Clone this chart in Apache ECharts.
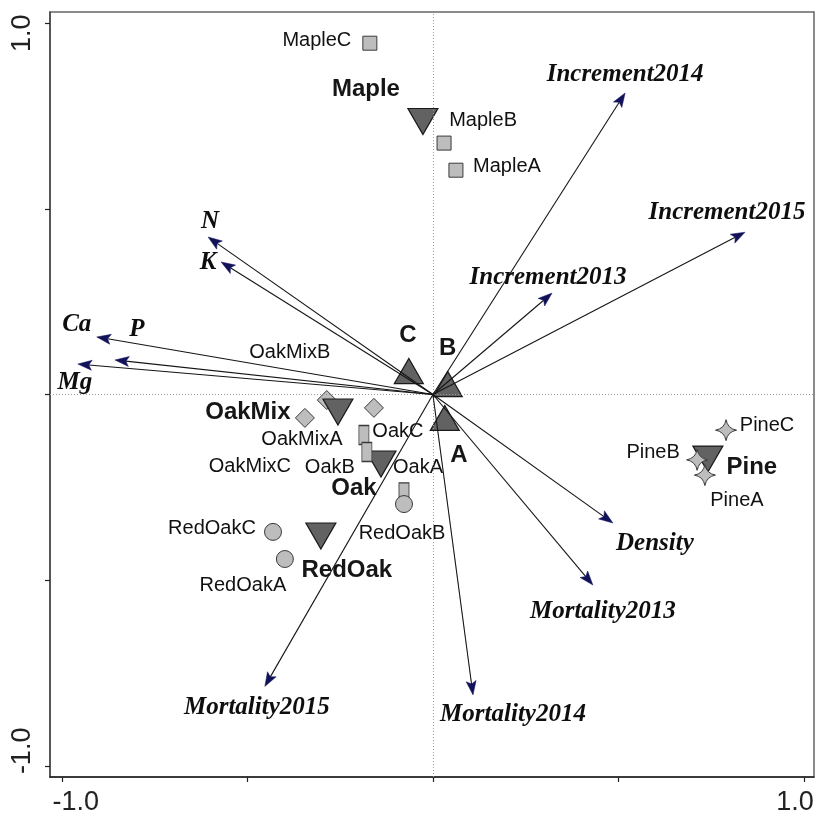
<!DOCTYPE html>
<html><head><meta charset="utf-8">
<script src="https://cdn.jsdelivr.net/npm/echarts@6/dist/echarts.min.js"></script>
<style>html,body{margin:0;padding:0;background:#fff}#c{width:817px;height:816px}</style>
</head><body><div id="c"></div>
<script>
// Environmental vectors (arrow tips)
const envNames = ['Increment2014','Increment2015','Increment2013','N','K','Ca','P','Mg','Density','Mortality2013','Mortality2014','Mortality2015'];
const envX = [0.518, 0.841, 0.321, -0.606, -0.571, -0.906, -0.857, -0.957, 0.485, 0.431, 0.108, -0.453];
const envY = [0.812, 0.437, 0.273, 0.424, 0.357, 0.155, 0.093, 0.082, -0.346, -0.513, -0.809, -0.786];
// Species group centroids
const groupNames = ['Maple','OakMix','Oak','RedOak','Pine'];
const groupX = [-0.027, -0.256, -0.140, -0.302, 0.741];
const groupY = [0.735, -0.047, -0.187, -0.381, -0.174];
// Site centroids
const siteGroupNames = ['C','B','A'];
const siteGroupX = [-0.065, 0.040, 0.032];
const siteGroupY = [0.063, 0.028, -0.063];
// Individual plots
const mapleNames = ['MapleC','MapleB','MapleA'];
const mapleX = [-0.170, 0.030, 0.062];
const mapleY = [0.946, 0.677, 0.604];
const oakMixNames = ['OakMixB','OakMixA','OakMixC'];
const oakMixX = [-0.286, -0.345, -0.159];
const oakMixY = [-0.015, -0.063, -0.036];
const oakNames = ['OakC','OakB','OakA'];
const oakX = [-0.186, -0.178, -0.078];
const oakY = [-0.109, -0.155, -0.257];
const redOakNames = ['RedOakB','RedOakC','RedOakA'];
const redOakX = [-0.078, -0.431, -0.399];
const redOakY = [-0.295, -0.370, -0.443];
const pineNames = ['PineC','PineB','PineA'];
const pineX = [0.790, 0.712, 0.733];
const pineY = [-0.096, -0.176, -0.217];
// Axis ticks
const tickValues = [-1, -0.5, 0, 0.5, 1];
const labelValues = [-1, 1];
const tickLabels = {'-1': '-1.0', '1': '1.0'};

// label offsets in pixels (styling)
const labelOffset = {
  Increment2014:[0,-18], Increment2015:[-18,-20], Increment2013:[-4,-16], N:[2,-15], K:[-13,1],
  Ca:[-20,-12], P:[22,-30], Mg:[-3,18], Density:[42,21], Mortality2013:[10,27], Mortality2014:[40,20], Mortality2015:[-8,21],
  Maple:[-57,-32], OakMix:[-90,0], Oak:[-27,24], RedOak:[26,34], Pine:[44,8],
  C:[-1,-36], B:[0,-36], A:[14,37],
  MapleC:[-53,-3], MapleB:[39,-23], MapleA:[51,-4],
  OakMixB:[-37,-48], OakMixA:[-3,22], OakMixC:[-124,59],
  OakC:[34,-3], OakB:[-37,15], OakA:[14,-22],
  RedOakB:[-2,29], RedOakC:[-61,-3], RedOakA:[-42,26],
  PineC:[41,-5], PineB:[-44,-7], PineA:[32,25]
};
const oakSizes = {OakC:[10,19], OakB:[10,19], OakA:[10,14]};

function pts(names, xs, ys, extra) {
  return names.map((n, i) => Object.assign({name: n, value: [xs[i], ys[i]], label: {offset: labelOffset[n]}}, extra ? extra(n) : {}));
}
const sansLabel = {show:true, position:'inside', formatter:'{b}', fontFamily:'Liberation Sans, Arial, sans-serif', fontSize:20, color:'#111', align:'center', verticalAlign:'middle', textBorderWidth:0, textBorderColor:'transparent', opacity:1};
const boldLabel = Object.assign({}, sansLabel, {fontSize:24, fontWeight:'bold', color:'#161616'});
const envLabel = Object.assign({}, sansLabel, {fontFamily:'Liberation Serif, Times New Roman, serif', fontStyle:'italic', fontWeight:'bold', fontSize:25, color:'#0e0e0e'});
const ptStyle = {color:'#bdbdbd', borderColor:'#3a3a3a', borderWidth:1, opacity:1};
const triStyle = {color:'#626262', borderColor:'#1a1a1a', borderWidth:1.2, opacity:1};

const chart = echarts.init(document.getElementById('c'), null, {renderer:'canvas'});
const axisFont = {fontFamily:'Liberation Sans, Arial, sans-serif', fontSize:27, color:'#222'};
chart.setOption({
  animation:false,
  backgroundColor:'#fff',
  grid:{left:50, right:3, top:12, bottom:39, show:true, borderColor:'#666', borderWidth:1.5},
  xAxis:{type:'value', min:-1.032, max:1.027,
    axisLine:{show:true, onZero:false, lineStyle:{color:'#222', width:1.5}},
    axisTick:{show:true, customValues:tickValues, length:5, lineStyle:{color:'#222', width:1.2}},
    axisLabel:{customValues:labelValues, margin:12,
      formatter: v => v < 0 ? '{l|' + tickLabels[String(v)] + '}' : '{r|' + tickLabels[String(v)] + '}',
      rich:{l:Object.assign({padding:[0,0,0,28]}, axisFont), r:Object.assign({padding:[0,18,0,0]}, axisFont)}},
    splitLine:{show:false}},
  yAxis:{type:'value', min:-1.03, max:1.03,
    axisLine:{show:true, onZero:false, lineStyle:{color:'#444', width:1.5}},
    axisTick:{show:true, customValues:tickValues, length:5, lineStyle:{color:'#222', width:1.2}},
    axisLabel:{customValues:labelValues, rotate:90, margin:14,
      formatter: v => v < 0 ? '{l|' + tickLabels[String(v)] + '}' : '{r|' + tickLabels[String(v)] + '}',
      rich:{l:Object.assign({padding:[0,0,0,30]}, axisFont), r:Object.assign({padding:[0,20,0,0]}, axisFont)}},
    splitLine:{show:false}},
  series:[
    {type:'scatter', name:'zero', z:1, data:[], silent:true,
      markLine:{silent:true, symbol:['none','none'], label:{show:false},
        lineStyle:{type:[1,2], color:'#9a9a9a', width:1}, data:[{xAxis:0},{yAxis:0}]}},
    {type:'scatter', name:'OakMix plots', z:2, symbol:'diamond', symbolSize:19, itemStyle:ptStyle, label:sansLabel,
      data:pts(oakMixNames, oakMixX, oakMixY)},
    {type:'scatter', name:'groups', z:3, symbol:'triangle', symbolRotate:180, symbolSize:[30,26], itemStyle:triStyle, label:boldLabel,
      data:pts(groupNames, groupX, groupY)},
    {type:'scatter', name:'sites', z:3, symbol:'triangle', symbolSize:[29,25], itemStyle:triStyle, label:boldLabel,
      data:pts(siteGroupNames, siteGroupX, siteGroupY)},
    {type:'scatter', name:'Maple plots', z:4, symbol:'rect', symbolSize:14, itemStyle:ptStyle, label:sansLabel,
      data:pts(mapleNames, mapleX, mapleY)},
    {type:'scatter', name:'Oak plots', z:4, symbol:'rect', itemStyle:ptStyle, label:sansLabel,
      data:pts(oakNames, oakX, oakY, n => ({symbolSize: oakSizes[n]}))},
    {type:'scatter', name:'RedOak plots', z:4, symbol:'circle', symbolSize:17, itemStyle:ptStyle, label:sansLabel,
      data:pts(redOakNames, redOakX, redOakY)},
    {type:'scatter', name:'Pine plots', z:4, symbol:'path://M0,-10 Q1.5,-1.5 10,0 Q1.5,1.5 0,10 Q-1.5,1.5 -10,0 Q-1.5,-1.5 0,-10 Z', symbolSize:21, itemStyle:ptStyle, label:sansLabel,
      data:pts(pineNames, pineX, pineY)},
    {type:'custom', name:'vectors', z:5, encode:{x:0, y:1},
      data:envNames.map((n, i) => [envX[i], envY[i]]),
      renderItem:(params, api) => {
        const o = api.coord([0, 0]);
        const t = api.coord([api.value(0), api.value(1)]);
        const dx = t[0] - o[0], dy = t[1] - o[1], L = Math.hypot(dx, dy);
        const ux = dx / L, uy = dy / L;
        const hl = 14, hw = 5;
        const bx = t[0] - ux * hl, by = t[1] - uy * hl;
        const nx = bx + ux * 3, ny = by + uy * 3;
        return {type:'group', children:[
          {type:'line', shape:{x1:o[0], y1:o[1], x2:nx, y2:ny}, style:{stroke:'#151515', lineWidth:1.1}},
          {type:'polygon', shape:{points:[[t[0], t[1]], [bx - uy * hw, by + ux * hw], [nx, ny], [bx + uy * hw, by - ux * hw]]},
            style:{fill:'#12125a', stroke:'#12125a', lineWidth:0.5}}
        ]};
      }},
    {type:'scatter', name:'vector labels', z:6, symbolSize:0, label:envLabel,
      data:pts(envNames, envX, envY)}
  ]
});
</script></body></html>
